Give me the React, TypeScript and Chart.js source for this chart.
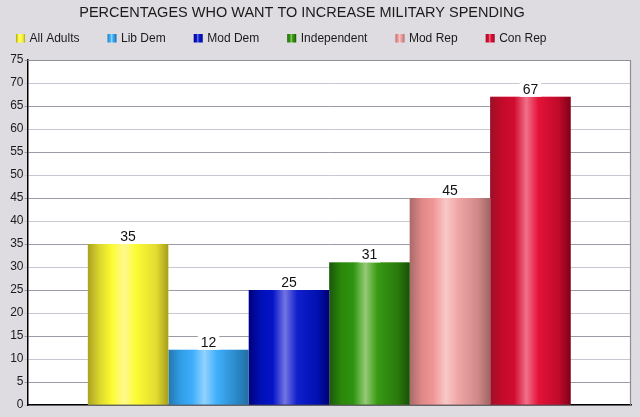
import React, { useEffect, useRef } from "react";
import { Chart, registerables } from "chart.js";

Chart.register(...registerables);

const titleText = "PERCENTAGES WHO WANT TO INCREASE MILITARY SPENDING";
const categories = ["All Adults", "Lib Dem", "Mod Dem", "Independent", "Mod Rep", "Con Rep"];
const values = [35, 12, 25, 31, 45, 67];
const yMin = 0;
const yMax = 75;
const yStep = 5;

const palettes: string[][] = [
  ["#aaa222", "#dcd82e", "#fdfb32", "#fff98e", "#fdfb34", "#e2dc30", "#a69e1e"],
  ["#2676ae", "#2f9de6", "#3eaefc", "#92d2ff", "#40b0fc", "#2a88c8", "#226ea2"],
  ["#00007e", "#0010b6", "#0414c8", "#7474e2", "#1020cc", "#0010b2", "#000072"],
  ["#1a580a", "#2a880a", "#2e9410", "#94ca74", "#389a12", "#2a7a0c", "#1a5008"],
  ["#a86a6a", "#e08888", "#f09898", "#f8c8c8", "#f0a6a6", "#d08888", "#a06464"],
  ["#9c1028", "#c40a2a", "#d00c30", "#f07088", "#e41238", "#c00a2a", "#80001a"],
];
const stopPos = [0, 0.15, 0.3, 0.45, 0.6, 0.85, 1];

const FONT = "'Liberation Sans', Arial, sans-serif";

function makeGrad(ctx: CanvasRenderingContext2D, left: number, width: number, idx: number) {
  const g = ctx.createLinearGradient(left, 0, left + width, 0);
  const p = palettes[idx % palettes.length];
  p.forEach((c, i) => g.addColorStop(stopPos[i], c));
  return g;
}

const bgPlugin = {
  id: "bgPlugin",
  beforeDraw(chart: any) {
    const { ctx, chartArea: a, width, height } = chart;
    ctx.save();
    ctx.fillStyle = "#dedce1";
    ctx.fillRect(0, 0, width, height);
    ctx.fillStyle = "#ffffff";
    ctx.fillRect(a.left, a.top, a.right - a.left, a.bottom - a.top);
    ctx.restore();
  },
  afterDraw(chart: any) {
    const { ctx, chartArea: a } = chart;
    ctx.save();
    ctx.strokeStyle = "#8e8e96";
    ctx.lineWidth = 1.2;
    ctx.beginPath();
    ctx.moveTo(a.left, a.top + 0.5);
    ctx.lineTo(a.right - 0.5, a.top + 0.5);
    ctx.lineTo(a.right - 0.5, a.bottom);
    ctx.stroke();
    ctx.restore();
  },
};

const barPlugin = {
  id: "barPlugin",
  afterDatasetDraw(chart: any, args: any) {
    const { ctx, chartArea: a } = chart;
    const meta = args.meta;
    ctx.save();
    ctx.beginPath();
    ctx.rect(a.left, a.top, a.right - a.left, a.bottom - a.top);
    ctx.clip();
    meta.data.forEach((el: any) => {
      const { x, y, base, width } = el.getProps(["x", "y", "base", "width"], true);
      const left = x - width / 2;
      ctx.fillStyle = makeGrad(ctx, left, width, args.index);
      ctx.fillRect(left, y, width, base - y);
    });
    ctx.restore();
  },
  afterDatasetsDraw(chart: any) {
    const { ctx } = chart;
    ctx.save();
    ctx.font = `14px ${FONT}`;
    ctx.textAlign = "center";
    ctx.textBaseline = "middle";
    chart.data.datasets.forEach((ds: any, di: number) => {
      const meta = chart.getDatasetMeta(di);
      meta.data.forEach((el: any, i: number) => {
        const { x, y } = el.getProps(["x", "y"], true);
        const txt = String(ds.data[i]);
        const w = ctx.measureText(txt).width + 6;
        const h = 15;
        ctx.fillStyle = "#ffffff";
        ctx.fillRect(x - w / 2, y - h, w, h);
        ctx.fillStyle = "#111111";
        ctx.fillText(txt, x, y - h / 2 + 0.5);
      });
    });
    ctx.restore();
  },
};

const headerPlugin = {
  id: "headerPlugin",
  afterDraw(chart: any) {
    const { ctx } = chart;
    ctx.save();
    ctx.fillStyle = "#1a1a1a";
    ctx.font = `14.5px ${FONT}`;
    ctx.textAlign = "center";
    ctx.textBaseline = "middle";
    ctx.fillText(titleText, 302, 13);

    ctx.font = `12px ${FONT}`;
    ctx.textAlign = "left";
    let x = 16;
    chart.data.datasets.forEach((ds: any, i: number) => {
      ctx.fillStyle = makeGrad(ctx, x, 9, i);
      ctx.fillRect(x, 34, 9, 8.5);
      ctx.fillStyle = "#1a1a1a";
      const tx = x + 13.5;
      ctx.fillText(ds.label, tx, 38.5);
      x = tx + ctx.measureText(ds.label).width + 28;
    });
    ctx.restore();
  },
};

export default function App() {
  const ref = useRef<HTMLCanvasElement | null>(null);

  useEffect(() => {
    document.body.style.margin = "0";
    if (!ref.current) return;
    const chart = new Chart(ref.current, {
      type: "bar",
      data: {
        labels: [""],
        datasets: categories.map((c, i) => ({
          label: c,
          data: [values[i]],
          backgroundColor: palettes[i][3],
          borderWidth: 0,
          categoryPercentage: 0.8,
          barPercentage: 1,
        })),
      },
      options: {
        animation: false,
        responsive: false,
        maintainAspectRatio: false,
        layout: { padding: { top: 60, right: 9, bottom: 12, left: 0 } },
        plugins: {
          legend: { display: false },
          title: { display: false },
          tooltip: { enabled: false },
        },
        scales: {
          x: {
            type: "category",
            grid: { display: false, drawTicks: false },
            ticks: { display: false },
            border: { display: true, color: "#000000", width: 1.5 },
            afterFit: (s: any) => {
              s.height = 0;
            },
          },
          y: {
            min: yMin,
            max: yMax,
            ticks: {
              stepSize: yStep,
              padding: 1,
              color: "#1a1a1a",
              font: { family: FONT, size: 12 },
            },
            grid: {
              color: (c: any) => (c.tick && c.tick.value % 10 === 0 ? "#c8c8d2" : "#9a9aa8"),
              lineWidth: 1,
              drawTicks: true,
              tickLength: 3,
            },
            border: { display: true, color: "#000000", width: 1.5 },
            afterFit: (s: any) => {
              s.width = 27.5;
            },
          },
        },
      },
      plugins: [bgPlugin, barPlugin, headerPlugin],
    });
    return () => chart.destroy();
  }, []);

  return (
    <div style={{ width: 640, height: 417, position: "relative" }}>
      <canvas ref={ref} width={640} height={417} style={{ display: "block" }} />
    </div>
  );
}
